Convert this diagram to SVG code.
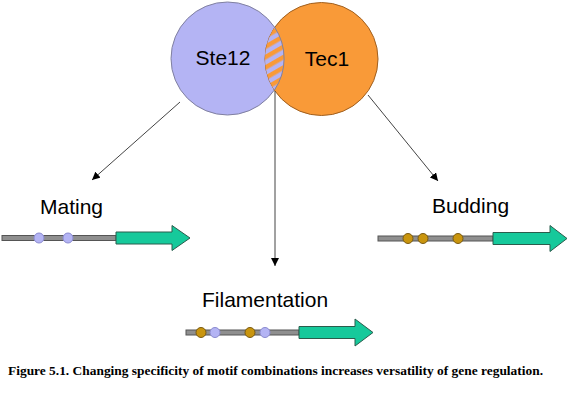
<svg xmlns="http://www.w3.org/2000/svg" width="572" height="401" viewBox="0 0 572 401">
<style>
.lbl{font-family:"Liberation Sans",Arial,sans-serif;font-size:21px;fill:#000}
.conn{stroke:#444;stroke-width:1;fill:none}
.dna{fill:#8f8f8f;stroke:#555;stroke-width:1}
.gene{fill:#16c99b;stroke:#2b5c4c;stroke-width:1}
.blue{fill:#b4b4f4;stroke:#8a8ad0;stroke-width:1}
.brown{fill:#c9950e;stroke:#7a5a10;stroke-width:1}
</style>
<defs>
<marker id="ah" viewBox="0 0 10 10" refX="10" refY="5" markerWidth="8" markerHeight="8" markerUnits="userSpaceOnUse" orient="auto">
<path d="M0,0 L10,5 L0,10 z" fill="#000"/>
</marker>
<pattern id="stripes" width="9" height="9" patternUnits="userSpaceOnUse" patternTransform="rotate(-30)">
<rect width="9" height="9" fill="#b4b4f4"/>
<rect width="9" height="4.5" fill="#f99a38"/>
</pattern>
<clipPath id="lensClip">
<circle cx="227.5" cy="58.5" r="56.5"/>
</clipPath>
</defs>

<g id="ste12">
<circle cx="227.5" cy="58.5" r="56.5" fill="#b4b4f4" stroke="#8080a0" stroke-width="1"/>
<text class="lbl" x="223" y="65" text-anchor="middle">Ste12</text>
</g>
<g id="tec1">
<circle cx="321.5" cy="59" r="56.5" fill="#f99a38" stroke="#a06020" stroke-width="1"/>
<text class="lbl" x="327" y="66" text-anchor="middle">Tec1</text>
</g>
<g id="overlap">
<circle cx="321.5" cy="59" r="56.5" fill="url(#stripes)" clip-path="url(#lensClip)"/>
<path d="M274.5,27 A56.5,56.5 0 0 1 274.5,90" fill="none" stroke="#8080a0" stroke-width="1"/>
</g>

<g id="connectors">
<line class="conn" x1="180" y1="102" x2="92" y2="180" marker-end="url(#ah)"/>
<line class="conn" x1="275" y1="91" x2="275" y2="266" marker-end="url(#ah)"/>
<line class="conn" x1="368" y1="95" x2="438" y2="181" marker-end="url(#ah)"/>
</g>

<g id="mating">
<text class="lbl" x="40" y="214">Mating</text>
<rect class="dna" x="2" y="235.5" width="114" height="5"/>
<path class="gene" d="M116,232 H172 V225.5 L190,238 L172,250.5 V244 H116 z"/>
<circle class="blue" cx="39" cy="238" r="5"/>
<circle class="blue" cx="68" cy="238" r="5"/>
</g>

<g id="budding">
<text class="lbl" x="432" y="213">Budding</text>
<rect class="dna" x="378" y="236" width="115" height="5"/>
<path class="gene" d="M493,232.5 H550 V225.5 L567,238.5 L550,251.5 V244.5 H493 z"/>
<circle class="brown" cx="408" cy="238.5" r="5"/>
<circle class="brown" cx="423" cy="238.5" r="5"/>
<circle class="brown" cx="458" cy="238.5" r="5"/>
</g>

<g id="filamentation">
<text class="lbl" x="202" y="307">Filamentation</text>
<rect class="dna" x="186" y="330" width="113" height="5"/>
<path class="gene" d="M299,326.5 H355 V319 L373,332.5 L355,346 V338.5 H299 z"/>
<circle class="brown" cx="201" cy="332.5" r="5"/>
<circle class="blue" cx="215" cy="332.5" r="5"/>
<circle class="brown" cx="250" cy="332.5" r="5"/>
<circle class="blue" cx="265" cy="332.5" r="5"/>
</g>

<text x="8" y="375" font-family="'Liberation Serif','Times New Roman',serif" font-size="12" font-weight="bold" textLength="535" lengthAdjust="spacingAndGlyphs">Figure 5.1. Changing specificity of motif combinations increases versatility of gene regulation.</text>
</svg>
